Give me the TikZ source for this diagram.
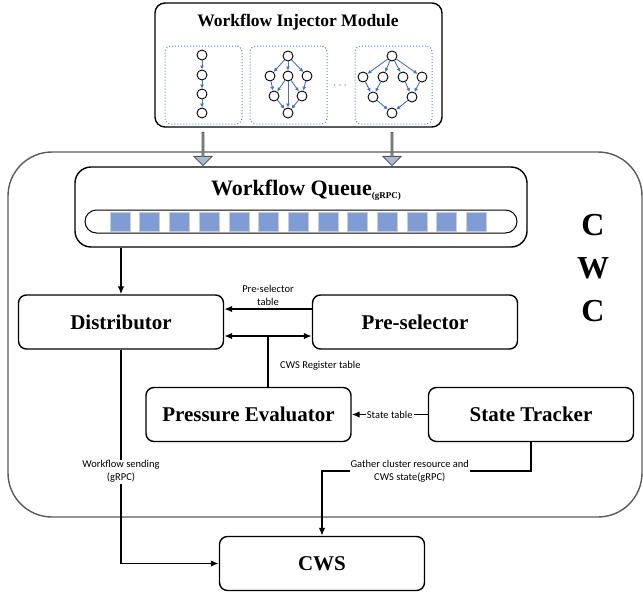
\documentclass[tikz,border=0pt]{standalone}
\usepackage{fontspec}
\setmainfont{Liberation Serif}
\newfontfamily\lblfont{Carlito}
\usetikzlibrary{arrows.meta,shapes.arrows}

\definecolor{dagblue}{HTML}{4472C4}
\definecolor{dotblue}{HTML}{5F88C6}
\definecolor{slotfill}{HTML}{7F9CD4}
\definecolor{slotedge}{HTML}{C8CDD8}
\definecolor{fatfill}{HTML}{A8BBD6}
\definecolor{fatedge}{HTML}{595959}
\definecolor{outeredge}{HTML}{5A5A5A}

\tikzset{
  box/.style={draw, rounded corners=8pt, line width=1.4pt, minimum width=205pt, minimum height=54pt, font=\fontsize{21}{24}\selectfont\bfseries},
  lbl/.style={font=\lblfont\fontsize{10.5}{13}\selectfont, align=center, inner sep=1pt},
  arr/.style={line width=1.5pt, -{Latex[length=8pt,width=6.5pt]}},
  dagnode/.style={circle, draw, line width=0.9pt, minimum size=10pt, inner sep=0pt},
  dagedge/.style={draw=dagblue, line width=0.9pt, -{Latex[length=4pt,width=4pt]}},
  subbox/.style={draw=dotblue, dotted, line width=1pt, rounded corners=6pt, minimum width=77pt, minimum height=78pt},
  qslot/.style={fill=slotfill, draw=slotedge, line width=0.6pt, minimum width=20pt, minimum height=19pt, inner sep=0pt},
  fatarrow/.style={single arrow, shape border rotate=270, draw=fatedge, fill=fatfill, line width=0.9pt, minimum height=33pt, minimum width=18pt, single arrow head extend=4.5pt, inner sep=0pt}
}

\begin{document}
\begin{tikzpicture}[x=1pt, y=-1pt]
    \useasboundingbox (0,0) rectangle (643,592);

    % CWC frame
    \node[draw=outeredge, line width=1.4pt, rounded corners=44pt, minimum width=634pt, minimum height=365pt] (cwc) at (325,334.5) {};
    \node[font=\fontsize{32}{43}\selectfont\bfseries, align=center] (cwclbl) at (593,268) {C\\W\\C};

    % Workflow injector module
    \node[draw, line width=1.4pt, rounded corners=10pt, minimum width=287pt, minimum height=124pt] (inj) at (298.5,65) {};
    \node[font=\fontsize{17.5}{20}\selectfont\bfseries] (injtitle) at (298,22) {Workflow Injector Module};
    \node[subbox] (sub1) at (203.5,85) {};
    \node[subbox] (sub2) at (288.5,85) {};
    \node[subbox] (sub3) at (393.5,85) {};
    \node[text=dagblue, font=\fontsize{12}{12}\selectfont] (dots) at (340,86) {$\cdots$};

    % chain workflow
    \node[dagnode] (a1) at (202,55) {};
    \node[dagnode] (a2) at (202,75) {};
    \node[dagnode] (a3) at (202,94) {};
    \node[dagnode] (a4) at (202,113) {};
    \foreach \s/\t in {a1/a2, a2/a3, a3/a4}
        \draw[dagedge] (\s) -- (\t);

    % second workflow
    \node[dagnode] (b1) at (288,56) {};
    \node[dagnode] (b2) at (270,76) {};
    \node[dagnode] (b3) at (288,76) {};
    \node[dagnode] (b4) at (307,76) {};
    \node[dagnode] (b5) at (274,96) {};
    \node[dagnode] (b6) at (302,96) {};
    \node[dagnode] (b7) at (288,113) {};
    \foreach \s/\t in {b1/b2, b1/b3, b1/b4, b2/b5, b3/b5, b3/b7, b3/b6, b4/b6, b5/b7, b6/b7}
        \draw[dagedge] (\s) -- (\t);

    % third workflow
    \node[dagnode] (c1) at (392,56) {};
    \node[dagnode] (c2) at (363,77) {};
    \node[dagnode] (c3) at (383,77) {};
    \node[dagnode] (c4) at (403,77) {};
    \node[dagnode] (c5) at (422,77) {};
    \node[dagnode] (c6) at (373,97) {};
    \node[dagnode] (c7) at (412,97) {};
    \node[dagnode] (c8) at (392,113) {};
    \foreach \s/\t in {c1/c2, c1/c3, c1/c4, c1/c5, c2/c6, c3/c6, c4/c7, c5/c7, c6/c8, c7/c8}
        \draw[dagedge] (\s) -- (\t);

    % Workflow queue
    \node[draw, line width=1.4pt, rounded corners=16pt, minimum width=452pt, minimum height=80pt] (queue) at (301,207) {};
    \node[font=\fontsize{22}{24}\selectfont\bfseries] (qtitle) at (306,190) {Workflow Queue\raisebox{-3pt}{\fontsize{9}{10}\selectfont(gRPC)}};
    \node[draw, line width=1pt, rounded corners=11.5pt, minimum width=432pt, minimum height=23pt] (pill) at (301,221.5) {};
    \foreach \i in {0,...,12}
        \node[qslot] (slot\i) at (120+\i*29.7,221.5) {};

    % injector into queue
    \node[fatarrow] (fat1) at (203,148.5) {};
    \node[fatarrow] (fat2) at (392,148.5) {};

    % Components
    \node[box] (dist) at (121,322) {Distributor};
    \node[box] (pre) at (415,322) {Pre-selector};
    \node[box] (pe) at (248.5,414.5) {Pressure Evaluator};
    \node[box] (st) at (531,414.5) {State Tracker};
    \node[box] (cws) at (322,563.5) {CWS};

    % Relations
    \draw[arr] (queue.south -| dist.north) -- (dist.north);
    \draw[arr] ([yshift=13pt]pre.west) -- node[lbl, above=2pt] {Pre-selector\\table} ([yshift=13pt]dist.east);
    \draw[arr, {Latex[length=8pt,width=6.5pt]}-{Latex[length=8pt,width=6.5pt]}] ([yshift=-14pt]dist.east) -- ([yshift=-14pt]pre.west);
    \coordinate (reg) at (268,336);
    \draw[line width=1.5pt] (reg) -- (reg |- pe.north);
    \node[lbl, anchor=west] (reglbl) at (279,366) {CWS Register table};
    \draw[arr] (st.west) -- node[lbl, fill=white] {State table} (pe.east);
    \draw[arr] (dist.south) -- node[lbl, fill=white, pos=0.57] {Workflow sending\\(gRPC)} (dist.south |- cws.west) -- (cws.west);
    \draw[arr] (st.south) |- node[lbl, fill=white, pos=0.79] {Gather cluster resource and\\CWS state(gRPC)} ([yshift=65pt]cws.north) -- (cws.north);

\end{tikzpicture}
\end{document}
